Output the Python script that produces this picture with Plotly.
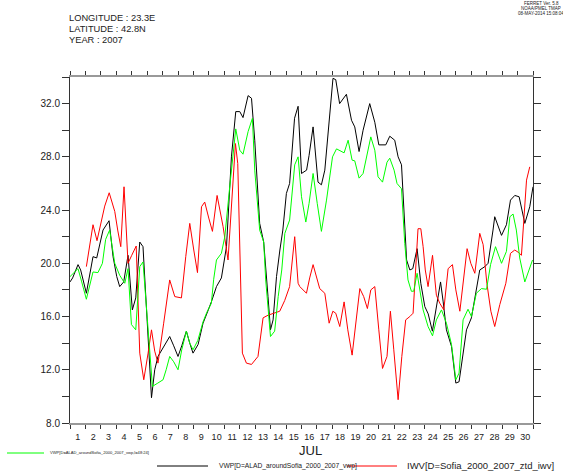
import plotly.graph_objects as go

# ---------------- data (time in days since 1-JUL-2007 00:00) ----------------
vwp_days = [0.00, 0.17, 0.52, 0.69, 1.06, 1.49, 1.73, 2.14, 2.53, 2.79, 3.03, 3.22, 3.48, 3.76,
            4.04, 4.26, 4.52, 4.73, 5.28, 5.49, 5.70, 6.01, 6.20, 6.46, 6.72, 7.00, 7.24, 7.54,
            7.76, 7.97, 8.30, 8.62, 8.86, 9.16, 9.49, 9.81, 10.14, 10.46, 10.74, 11.00, 11.21,
            11.54, 11.76, 11.97, 12.29, 12.55, 12.83, 12.99, 13.16, 13.38, 13.60, 13.79, 14.02,
            14.23, 14.55, 14.78, 15.00, 15.33, 15.49, 15.75, 16.07, 16.29, 16.51, 16.77, 17.04,
            17.22, 17.47, 17.91, 18.24, 18.45, 18.73, 18.99, 19.42, 19.75, 20.01, 20.46, 20.72,
            21.04, 21.26, 21.48, 21.81, 22.02, 22.21, 22.49, 22.73, 22.99, 23.21, 23.48, 23.74,
            24.01, 24.18, 24.39, 24.72, 25.00, 25.21, 25.47, 25.69, 26.01, 26.33, 26.55, 26.88,
            27.09, 27.41, 27.52, 27.96, 28.28, 28.54, 28.82, 29.10, 29.47, 29.79, 30.00]
vwp_vals = [18.6, 18.9, 19.9, 19.5, 17.75, 20.5, 20.4, 22.5, 23.2, 20.5, 19.0, 18.25, 18.6, 20.6,
            16.5, 17.4, 21.6, 21.25, 9.9, 12.0, 13.0, 13.6, 14.0, 14.5, 13.8, 13.0, 13.8, 14.9,
            14.0, 13.25, 13.9, 15.5, 16.2, 17.1, 18.25, 18.9, 21.25, 28.0, 31.4, 31.4, 30.95,
            32.6, 32.4, 29.25, 23.0, 21.6, 17.5, 15.0, 15.75, 19.0, 21.0, 22.5, 25.25,
            26.0, 30.9, 31.8, 26.75, 27.0, 28.1, 30.25, 26.1, 25.9, 27.0, 30.5, 33.9,
            33.8, 32.0, 32.7, 30.75, 30.25, 28.4, 30.0, 32.0, 30.6, 28.9, 28.9, 29.55,
            29.25, 28.0, 27.4, 20.25, 19.5, 19.6, 21.1, 18.5, 16.75, 16.2, 14.9, 16.6,
            18.6, 17.1, 15.0, 13.75, 11.0, 11.1, 13.25, 15.0, 15.9, 18.0, 19.5, 19.75,
            20.0, 22.5, 23.5, 22.1, 22.9, 24.75, 25.1, 25.0, 23.0, 24.25, 25.75]

iwv_days = [1.06, 1.49, 1.75, 1.99, 2.25, 2.54, 2.90, 3.09, 3.29, 3.50, 3.76, 4.00, 4.29, 4.52,
            4.78, 5.06, 5.28, 5.49, 5.70, 6.07, 6.46, 6.79, 7.22, 7.50, 7.76, 8.02, 8.26, 8.52,
            8.73, 8.99, 9.23, 9.53, 9.92, 10.24, 10.46, 10.72, 10.87, 11.00, 11.17, 11.43, 11.76,
            12.18, 12.51, 12.83, 13.16, 13.59, 13.91, 14.23, 14.56, 14.78, 14.89, 15.32, 15.53,
            15.75, 16.18, 16.51, 16.79, 17.03, 17.22, 17.48, 17.76, 18.00, 18.28, 18.52, 18.78,
            19.03, 19.27, 19.49, 19.75, 20.01, 20.25, 20.54, 20.76, 20.98, 21.26, 21.50, 21.75,
            22.02, 22.23, 22.55, 22.73, 22.88, 23.02, 23.20, 23.49, 23.74, 23.96, 24.22, 24.50,
            24.78, 25.00, 25.26, 25.52, 25.73, 25.97, 26.23, 26.55, 26.77, 27.01, 27.27, 27.52,
            27.85, 28.24, 28.54, 28.82, 29.08, 29.25, 29.58, 29.79]
iwv_vals = [19.75, 22.9, 21.7, 23.0, 24.3, 25.3, 23.9, 22.5, 21.25, 25.75, 20.0, 20.6, 21.3, 13.25,
            11.25, 13.25, 15.0, 13.4, 12.5, 15.5, 18.75, 17.5, 17.4, 20.5, 23.0, 21.0, 19.3, 24.25,
            24.6, 23.4, 22.4, 25.1, 22.75, 20.25, 24.5, 29.0, 27.5, 20.25, 13.25, 12.5, 12.4,
            13.0, 15.9, 16.1, 16.25, 16.4, 17.2, 18.25, 22.0, 18.5, 18.25, 17.75, 18.9,
            19.9, 18.1, 17.75, 15.5, 16.4, 16.25, 15.25, 17.1, 15.0, 13.1, 15.5, 18.1,
            17.5, 16.6, 18.0, 18.25, 15.0, 12.1, 13.0, 16.4, 13.5, 9.75, 13.0, 15.75,
            16.0, 16.25, 22.6, 22.6, 21.25, 19.5, 18.25, 20.6, 17.6, 17.0, 16.5, 19.6,
            19.9, 18.0, 16.4, 18.8, 21.1, 20.0, 19.25, 22.25, 21.4, 18.5, 16.4, 15.25,
            16.9, 18.5, 20.75, 21.0, 20.8, 20.6, 26.25, 27.25]

vwp24_days = [0.00, 0.52, 0.76, 1.06, 1.49, 1.81, 2.10, 2.31, 2.57, 2.90, 3.22, 3.55, 3.76, 3.98,
              4.26, 4.52, 4.73, 5.34, 5.69, 6.03, 6.23, 6.46, 6.72, 7.00, 7.24, 7.54, 7.76, 7.97,
              8.28, 8.62, 8.86, 9.16, 9.31, 9.49, 9.81, 10.03, 10.35, 10.74, 11.00, 11.21, 11.54,
              11.82, 11.97, 12.29, 12.55, 12.68, 12.99, 13.26, 13.49, 13.72, 13.92, 14.23, 14.56,
              14.78, 15.00, 15.28, 15.49, 15.75, 16.02, 16.29, 16.62, 17.01, 17.27, 17.76, 18.02,
              18.28, 18.45, 18.73, 18.99, 19.49, 19.75, 19.96, 20.25, 20.54, 20.72, 21.00, 21.19,
              21.48, 21.69, 21.90, 22.12, 22.27, 22.49, 22.88, 23.20, 23.49, 23.74, 24.07, 24.39,
              24.72, 25.00, 25.21, 25.47, 25.79, 26.01, 26.33, 26.66, 26.99, 27.25, 27.57, 27.96,
              28.28, 28.50, 28.71, 28.92, 29.14, 29.47, 29.97]
vwp24_vals = [19.0, 19.6, 18.6, 17.3, 19.35, 19.3, 20.0, 21.8, 22.5, 20.0, 19.1, 18.5, 19.6, 15.4,
              15.0, 19.75, 20.1, 10.75, 11.0, 11.25, 12.0, 13.0, 12.6, 12.0, 13.5, 14.9, 14.0, 13.5,
              14.2, 15.6, 16.3, 17.0, 18.8, 20.25, 20.75, 22.0, 25.75, 30.1, 28.5, 28.2, 29.9,
              30.9, 27.0, 22.5, 21.6, 18.75, 14.5, 14.9, 17.5, 19.5, 22.25, 23.25, 27.4,
              28.0, 25.0, 23.1, 24.5, 26.75, 24.5, 22.4, 24.75, 28.0, 28.6, 28.3, 29.25,
              27.75, 27.7, 26.4, 26.75, 29.5, 28.5, 26.5, 26.1, 27.6, 27.9, 27.0, 26.0,
              25.6, 21.5, 18.75, 17.9, 17.9, 19.25, 16.5, 15.25, 14.55, 15.75, 16.5, 15.5,
              13.9, 11.25, 11.75, 15.75, 16.55, 16.0, 17.75, 18.1, 18.05, 19.9, 21.25, 20.0,
              20.9, 23.5, 23.7, 22.5, 20.4, 18.6, 20.25]

day_labels = [str(d) for d in range(1, 31)]
y_tick_vals = [8, 12, 16, 20, 24, 28, 32]

name_vwp = "VWP[D=ALAD_aroundSofia_2000_2007_vwp]"
name_iwv = "IWV[D=Sofia_2000_2007_ztd_iwv]"
name_vwp24 = "VWP[D=ALAD_aroundSofia_2000_2007_vwp,l=48:24]"

# ---------------- figure ----------------
W, H = 563, 472
L, R, T, B = 70, 30, 77, 49
PW, PH = W - L - R, H - T - B


def px(x):
    return (x - L) / PW


def py(y):
    return (H - B - y) / PH


FONT = "Liberation Sans, Arial, sans-serif"
TXT = "#222222"
C_VWP, C_IWV, C_VWP24 = "#000000", "#ff0000", "#00ff00"

fig = go.Figure()
fig.add_trace(go.Scatter(x=vwp_days, y=vwp_vals, mode="lines", name=name_vwp,
                         line=dict(color=C_VWP, width=1), showlegend=False))
fig.add_trace(go.Scatter(x=iwv_days, y=iwv_vals, mode="lines", name=name_iwv,
                         line=dict(color=C_IWV, width=1), showlegend=False))
fig.add_trace(go.Scatter(x=vwp24_days, y=vwp24_vals, mode="lines", name=name_vwp24,
                         line=dict(color=C_VWP24, width=1), showlegend=False))

fig.update_layout(
    width=W, height=H,
    margin=dict(l=L, r=R, t=T, b=B, pad=0, autoexpand=False),
    paper_bgcolor="white", plot_bgcolor="white",
    font=dict(family=FONT, color=TXT),
    showlegend=False,
    xaxis=dict(
        range=[0, 30], showgrid=False, zeroline=False,
        tickmode="array", tickvals=[i + 0.5 for i in range(30)], ticktext=day_labels,
        ticks="outside", ticklen=4, tickcolor="rgba(0,0,0,0)",
        tickfont=dict(size=9, family=FONT, color=TXT),
        minor=dict(tickmode="linear", tick0=0, dtick=1, ticks="outside", ticklen=4,
                   tickcolor="#333333", tickwidth=1, showgrid=False),
        showline=True, linecolor="#999999", linewidth=2, mirror="ticks",
    ),
    yaxis=dict(
        range=[8, 34], showgrid=False, zeroline=False,
        tickmode="array", tickvals=y_tick_vals, ticktext=[f"{v:.1f}" for v in y_tick_vals],
        ticks="outside", ticklen=7, tickcolor="#333333", tickwidth=1,
        tickfont=dict(size=10, family=FONT, color=TXT),
        minor=dict(tickmode="linear", tick0=8, dtick=2, ticks="outside", ticklen=7,
                   tickcolor="#333333", tickwidth=1, showgrid=False),
        showline=True, linecolor="#333333", linewidth=1, mirror="ticks",
    ),
)

# key (legend) below the axis: sample line + label, Ferret style
keys = [
    (name_vwp24, C_VWP24, 7, 44, 453, 48, 4.1),
    (name_vwp, C_VWP, 157, 208, 466, 217, 6.7),
    (name_iwv, C_IWV, 347, 397, 466, 405, 9.5),
]
for label, col, x0, x1, yk, xt, fs in keys:
    fig.add_shape(type="line", xref="paper", yref="paper",
                  x0=px(x0), x1=px(x1), y0=py(yk), y1=py(yk),
                  line=dict(color=col, width=1))
    fig.add_annotation(text=label, xref="paper", yref="paper", x=px(xt), y=py(yk),
                       xanchor="left", yanchor="middle", showarrow=False,
                       font=dict(size=fs, family=FONT, color=TXT))

header = [("LONGITUDE : 23.3E", 18), ("LATITUDE : 42.8N", 29), ("YEAR : 2007", 40)]
for txt, yy in header:
    fig.add_annotation(text=txt, xref="paper", yref="paper", x=px(67), y=py(yy),
                       xanchor="left", yanchor="middle", showarrow=False,
                       font=dict(size=9.3, family=FONT, color=TXT))

stamp = [("FERRET Ver. 5.8", 4), ("NOAA/PMEL TMAP", 8.5), ("08-MAY-2014 15:08:04", 13)]
for txt, yy in stamp:
    fig.add_annotation(text=txt, xref="paper", yref="paper", x=px(541), y=py(yy),
                       xanchor="center", yanchor="middle", showarrow=False,
                       font=dict(size=4.5, family=FONT, color=TXT))

fig.add_annotation(text="JUL", xref="paper", yref="paper", x=px(310), y=py(450),
                   xanchor="center", yanchor="middle", showarrow=False,
                   font=dict(size=13, family=FONT, color=TXT))

fig.write_html("out.html", config={"displayModeBar": False},
               post_script="document.body.style.margin='0';")
